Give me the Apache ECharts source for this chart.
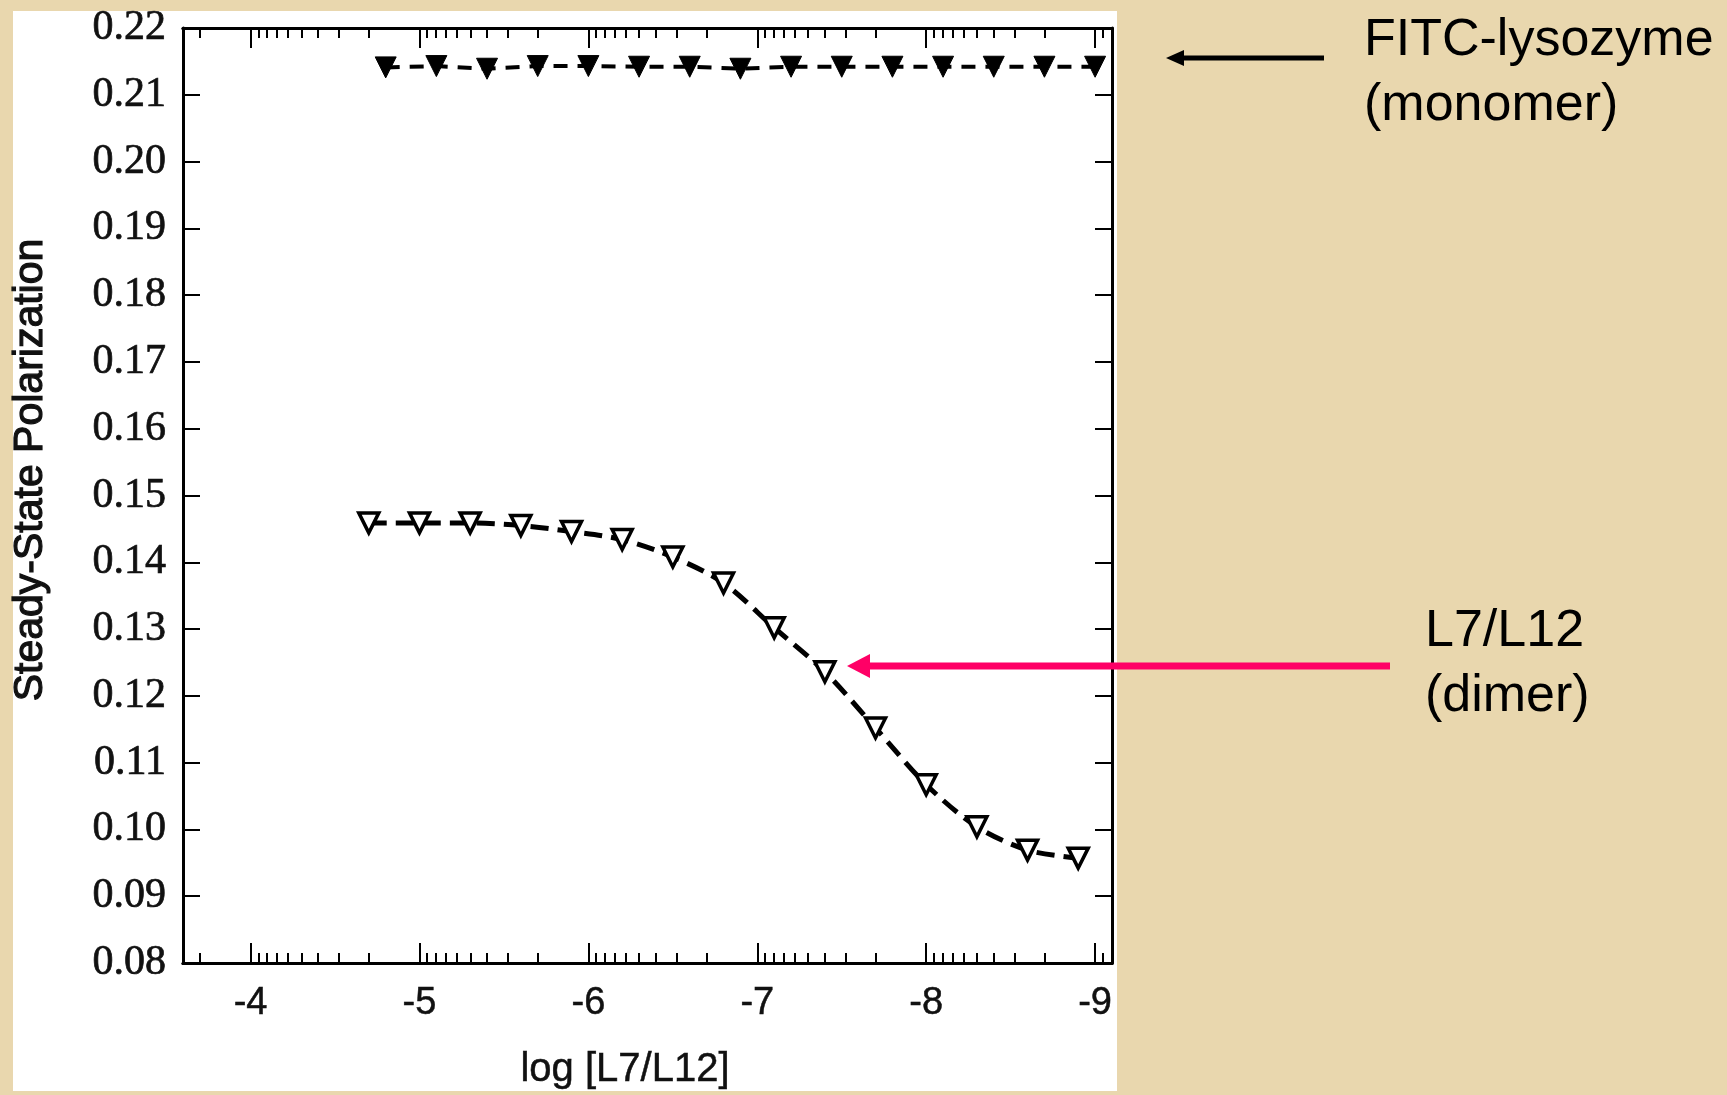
<!DOCTYPE html>
<html>
<head>
<meta charset="utf-8">
<script src="https://cdn.jsdelivr.net/npm/echarts@6/dist/echarts.min.js"></script>
<style>
  html, body { margin: 0; padding: 0; background: #e9d7ae; }
  #main { width: 1727px; height: 1095px; }
</style>
</head>
<body>
<div id="main"></div>
<script>
const chartDom = document.getElementById('main');
const myChart = echarts.init(chartDom);

// log [L7/L12] for each dilution
const monomerX = [-4.8, -5.1, -5.4, -5.7, -6.0, -6.3, -6.6, -6.9, -7.2, -7.5, -7.8, -8.1, -8.4, -8.7, -9.0];
const monomerY = [0.2141, 0.2143, 0.2139, 0.2143, 0.2143, 0.2142, 0.2142, 0.2139, 0.2142, 0.2142, 0.2142, 0.2142, 0.2142, 0.2142, 0.2142];

const dimerX = [-4.7, -5.0, -5.3, -5.6, -5.9, -6.2, -6.5, -6.8, -7.1, -7.4, -7.7, -8.0, -8.3, -8.6, -8.9];
const dimerY = [0.1459, 0.1459, 0.1459, 0.1455, 0.1446, 0.1434, 0.1408, 0.1369, 0.1302, 0.1236, 0.1152, 0.1067, 0.1004, 0.0969, 0.0957];

const xMajor = [-4, -5, -6, -7, -8, -9];
const xMin = -9.1, xMax = -3.6;

// minor ticks of a log axis: (n-1) + log10(k)
const xMinor = [];
for (let n = -3; n >= -9; n--) {
    for (let k = 2; k <= 9; k++) {
        const v = (n - 1) + Math.log10(k);
        if (v > xMin && v < xMax) xMinor.push(v);
    }
}

const pair = (xs, ys) => xs.map((x, i) => [x, ys[i]]);

const black = '#000';
const sans = '"Liberation Sans", Arial, sans-serif';
const serif = '"Liberation Serif", "Times New Roman", serif';

function xAxisDef(pos, ticks, len, showLabel) {
    return {
        type: 'value',
        position: pos,
        inverse: true,
        min: xMin,
        max: xMax,
        axisLine: {show: true, onZero: false, lineStyle: {color: black, width: 3}},
        axisTick: {show: true, inside: true, length: len, customValues: ticks,
                   lineStyle: {color: black, width: 2}},
        axisLabel: {show: showLabel, customValues: xMajor, margin: 22,
                    fontFamily: sans, fontSize: 38, color: '#111',
                    textBorderColor: '#111', textBorderWidth: 0.5,
                    formatter: v => String(v)},
        splitLine: {show: false}
    };
}

function yAxisDef(pos, showLabel) {
    return {
        type: 'value',
        position: pos,
        min: 0.08,
        max: 0.22,
        interval: 0.01,
        axisLine: {show: true, onZero: false, lineStyle: {color: black, width: 3}},
        axisTick: {show: true, inside: true, length: 17, lineStyle: {color: black, width: 2}},
        axisLabel: {show: showLabel, margin: 17, fontFamily: serif, fontSize: 42, color: '#111',
                    textBorderColor: '#111', textBorderWidth: 0.7,
                    formatter: v => v.toFixed(2)},
        splitLine: {show: false}
    };
}

let option;

option = {
    backgroundColor: '#e9d7ae',
    animation: false,
    grid: {left: 183, top: 28, width: 929, height: 935, containLabel: false},
    xAxis: [
        xAxisDef('bottom', xMajor, 20, true),
        xAxisDef('bottom', xMinor, 10, false),
        xAxisDef('top', xMajor, 20, false),
        xAxisDef('top', xMinor, 10, false)
    ],
    yAxis: [
        yAxisDef('left', true),
        yAxisDef('right', false)
    ],
    series: [
        {
            name: 'FITC-lysozyme',
            type: 'line',
            data: pair(monomerX, monomerY),
            symbol: 'triangle',
            symbolRotate: 180,
            symbolSize: 21,
            itemStyle: {color: black, borderColor: black, borderWidth: 1},
            lineStyle: {color: black, width: 4, type: [14, 10]},
            z: 5
        },
        {
            name: 'L7/L12',
            type: 'line',
            data: pair(dimerX, dimerY),
            smooth: 0.3,
            symbol: 'triangle',
            symbolRotate: 180,
            symbolSize: 20,
            itemStyle: {color: '#fff', borderColor: black, borderWidth: 3.5},
            lineStyle: {color: black, width: 5, type: [18, 9]},
            z: 5
        }
    ],
    graphic: [
        {
            type: 'rect', z: -1, silent: true,
            shape: {x: 13, y: 11, width: 1104, height: 1080},
            style: {fill: '#fff'}
        },
        {
            type: 'text', z: 10, x: 31, y: 470, rotation: Math.PI / 2,
            style: {text: 'Steady-State Polarization', fill: '#111', font: '41px ' + sans,
                    textAlign: 'center', textVerticalAlign: 'middle',
                    stroke: '#111', lineWidth: 1.2}
        },
        {
            type: 'text', z: 10, x: 625, y: 1070,
            style: {text: 'log [L7/L12]', fill: '#111', font: '40px ' + sans,
                    textAlign: 'center', textVerticalAlign: 'middle',
                    stroke: '#111', lineWidth: 0.5}
        },
        // monomer annotation
        {
            type: 'line', z: 10,
            shape: {x1: 1324, y1: 58, x2: 1180, y2: 58},
            style: {stroke: black, lineWidth: 5}
        },
        {
            type: 'polygon', z: 10,
            shape: {points: [[1166, 58], [1184, 50], [1184, 66]]},
            style: {fill: black}
        },
        {
            type: 'text', z: 10, x: 1364, y: 41,
            style: {text: 'FITC-lysozyme', fill: black, font: '52px ' + sans,
                    textAlign: 'left', textVerticalAlign: 'middle'}
        },
        {
            type: 'text', z: 10, x: 1364, y: 106,
            style: {text: '(monomer)', fill: black, font: '52px ' + sans,
                    textAlign: 'left', textVerticalAlign: 'middle'}
        },
        // dimer annotation
        {
            type: 'line', z: 10,
            shape: {x1: 1390, y1: 666, x2: 862, y2: 666},
            style: {stroke: '#ff0066', lineWidth: 7}
        },
        {
            type: 'polygon', z: 10,
            shape: {points: [[847, 666], [870, 654], [870, 678]]},
            style: {fill: '#ff0066'}
        },
        {
            type: 'text', z: 10, x: 1425, y: 632,
            style: {text: 'L7/L12', fill: black, font: '52px ' + sans,
                    textAlign: 'left', textVerticalAlign: 'middle'}
        },
        {
            type: 'text', z: 10, x: 1425, y: 697,
            style: {text: '(dimer)', fill: black, font: '52px ' + sans,
                    textAlign: 'left', textVerticalAlign: 'middle'}
        }
    ]
};

myChart.setOption(option);
</script>
</body>
</html>
